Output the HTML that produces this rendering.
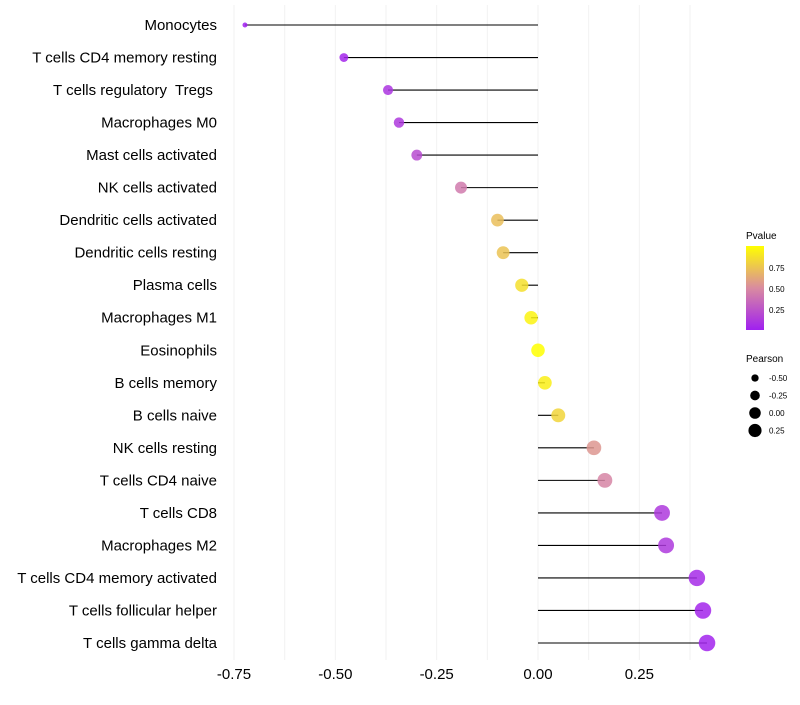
<!DOCTYPE html>
<html><head><meta charset="utf-8"><style>
body{margin:0;background:#fff;font-family:"Liberation Sans",sans-serif}
</style></head><body>
<svg id="c" width="800" height="700" xmlns="http://www.w3.org/2000/svg">
<defs><linearGradient id="pg" x1="0" y1="1" x2="0" y2="0">
<stop offset="0" stop-color="#A020F0"/><stop offset="0.5" stop-color="#D98BA0"/><stop offset="1" stop-color="#FFFF00"/></linearGradient></defs>
<g id="grid"></g><g id="marks"></g><g id="labels"></g>
<g>
<text x="746" y="239" font-size="10">Pvalue</text>
<rect x="746" y="246" width="18" height="84" fill="url(#pg)"/>
<text x="769" y="271" font-size="8">0.75</text>
<text x="769" y="292" font-size="8">0.50</text>
<text x="769" y="313" font-size="8">0.25</text>
</g>
<g id="sizeleg">
<text x="746" y="362" font-size="10">Pearson</text>
</g>
</svg>
<script>
const cells=["Monocytes","T cells CD4 memory resting","T cells regulatory  Tregs ","Macrophages M0","Mast cells activated","NK cells activated","Dendritic cells activated","Dendritic cells resting","Plasma cells","Macrophages M1","Eosinophils","B cells memory","B cells naive","NK cells resting","T cells CD4 naive","T cells CD8","Macrophages M2","T cells CD4 memory activated","T cells follicular helper","T cells gamma delta"];
const pearson=[-0.723,-0.479,-0.37,-0.343,-0.299,-0.19,-0.10,-0.086,-0.04,-0.017,0,0.017,0.05,0.138,0.165,0.306,0.316,0.392,0.407,0.417];
const pvalue=[0.0,0.03,0.1,0.12,0.2,0.42,0.72,0.74,0.86,0.95,1.0,0.93,0.82,0.55,0.47,0.12,0.12,0.05,0.03,0.02];
const xTicks=[-0.75,-0.5,-0.25,0,0.25];
const xTickLabels=["-0.75","-0.50","-0.25","0.00","0.25"];
const sizeLegend=[-0.5,-0.25,0,0.25];
const sizeLegendLabels=["-0.50","-0.25","0.00","0.25"];
const NS="http://www.w3.org/2000/svg";
const X=v=>538+v*405.3;
const Y=i=>25+i*(643-25)/(cells.length-1);
const R=v=>Math.sqrt(Math.max(2,46+55*v));
function mix(a,b,t){return a.map((x,i)=>Math.round(x+(b[i]-x)*t));}
function col(p){const s=[[160,32,240],[217,139,160],[255,255,0]];const c=p<0.5?mix(s[0],s[1],p/0.5):mix(s[1],s[2],(p-0.5)/0.5);return `rgb(${c})`;}
function el(t,a,par){const e=document.createElementNS(NS,t);for(const k in a)e.setAttribute(k,a[k]);par.appendChild(e);return e;}
const grid=document.getElementById('grid'),marks=document.getElementById('marks'),labels=document.getElementById('labels');
for(let v=-0.75;v<=0.38;v+=0.125){const g=el('line',{x1:X(v),x2:X(v),y1:5,y2:660,stroke:'#f2f2f2','stroke-width':1},grid);

}
xTicks.forEach((v,i)=>{const t=el('text',{x:X(v),y:679,'font-size':15,'text-anchor':'middle',fill:'#000'},labels);t.textContent=xTickLabels[i];

});
cells.forEach((c,i)=>{
const t=el('text',{x:217,y:Y(i)+5,'font-size':15,'text-anchor':'end',fill:'#000'},labels);t.textContent=c;t.style.whiteSpace='pre';


const l=el('line',{x1:X(0),x2:X(pearson[i]),y1:Y(i),y2:Y(i),stroke:'#000','stroke-width':1.1},marks);


const p=el('circle',{cx:X(pearson[i]),cy:Y(i),r:R(pearson[i]),fill:col(pvalue[i]),'fill-opacity':0.85},marks);


});
const sl=document.getElementById('sizeleg');
sizeLegend.forEach((v,i)=>{const y=378+i*17.5;
const c=el('circle',{cx:755,cy:y,r:R(v)*0.85,fill:'#000'},sl);


const t=el('text',{x:769,y:y+3,'font-size':8},sl);t.textContent=sizeLegendLabels[i];

});
</script>
</body></html>
